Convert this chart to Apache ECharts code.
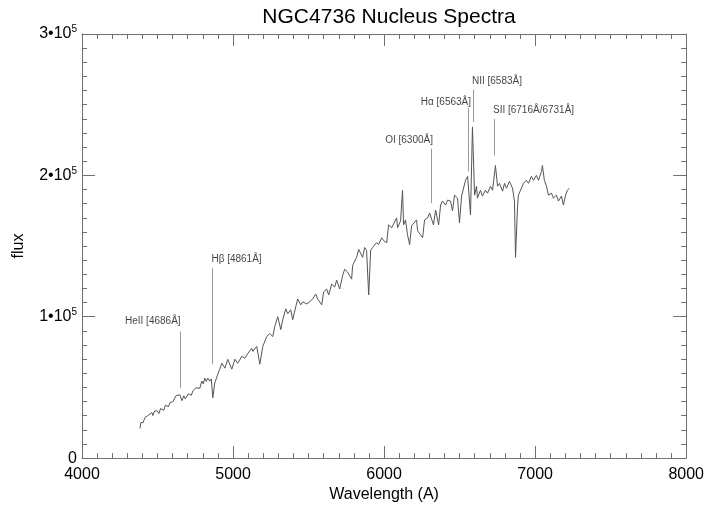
<!DOCTYPE html>
<html>
<head>
<meta charset="utf-8">
<script src="https://cdn.jsdelivr.net/npm/echarts@6/dist/echarts.min.js"></script>
<style>html,body{margin:0;padding:0;background:#fff;}#c{width:707px;height:508px;}</style>
</head>
<body>
<div id="c"></div>
<script>
const wavelength = [4384,4390,4397,4404,4417,4424,4436,4443,4463,4469,4480,4496,4509,4520,4529,4542,4552,4562,4572,4582,4592,4602,4612,4622,4635,4648,4661,4674,4684,4694,4704,4714,4724,4734,4744,4754,4767,4780,4793,4803,4813,4823,4833,4846,4856,4866,4879,4899,4912,4926,4946,4965,4992,5012,5031,5058,5078,5098,5124,5131,5157,5177,5197,5223,5243,5263,5276,5296,5316,5329,5349,5362,5382,5395,5415,5428,5448,5461,5488,5508,5527,5547,5560,5587,5600,5620,5633,5653,5673,5686,5706,5726,5739,5759,5785,5792,5818,5832,5858,5871,5884,5898,5911,5924,5950,5964,5984,5997,6017,6030,6050,6063,6083,6089,6109,6122,6129,6142,6155,6169,6182,6195,6215,6222,6241,6255,6268,6288,6301,6314,6327,6341,6361,6374,6387,6407,6420,6440,6453,6466,6486,6499,6513,6526,6539,6553,6572,6585,6599,6612,6618,6638,6651,6671,6685,6704,6718,6737,6751,6764,6784,6797,6810,6830,6850,6863,6870,6883,6889,6909,6923,6942,6956,6975,6989,7008,7022,7042,7048,7061,7075,7088,7108,7121,7141,7154,7174,7187,7200,7213,7227];
const flux = [21000,25200,26600,25000,28700,27300,30100,29000,32200,30100,33200,33600,31500,35000,35700,33900,37400,38500,36400,39200,38100,39900,40900,44100,42700,44800,40600,44100,41900,42700,45500,46200,44400,47600,46500,49700,51000,49400,54500,52500,56600,54200,56600,54500,56000,42700,53100,59400,62900,67100,63600,69900,62900,69900,67100,72000,70600,74100,77600,75500,79000,66400,79000,86000,88100,86000,93000,100000,90900,97900,105600,102100,104900,97900,107000,112600,108400,110500,109100,110500,112600,116100,112600,108400,117500,119600,115400,123100,121000,125900,119600,129400,133600,131500,126600,136400,142000,147600,142000,149000,146900,115400,146900,149000,152400,151000,155900,153800,152400,165000,162900,164300,169900,162900,167800,189500,165000,168500,158000,151000,164300,162900,168500,160800,158000,155900,168500,169900,173400,174800,165000,175500,165000,179000,181800,179000,182500,181800,174800,186000,183900,166400,185300,186700,196500,199300,172000,234300,186000,192300,183900,189500,185300,189500,187400,192300,189500,207000,192300,194400,188800,194400,190900,195800,190900,181800,142000,176900,186000,190900,194400,196500,194400,199300,196500,200000,196500,202800,207000,196500,192300,186000,187400,183900,186000,181800,185300,179000,185300,189500,190900];

// emission-line annotations
const lineNames = ['HeII [4686Å]','Hβ [4861Å]','OI [6300Å]','Hα [6563Å]','NII [6583Å]','SII [6716Å/6731Å]'];
const lineWave = [4650,4864,6314,6559,6592,6731];
const lineLow = [49700,66400,180400,202800,237800,214000];
const lineHigh = [89500,134300,218900,247600,260800,239900];
const labelWave = [4656,4860,6327,6579,6585,6724];
const labelFlux = [96500,140600,224500,251700,266400,245500];
const labelAlign = ['right','left','right','right','left','left'];

const xTicks = [4000,5000,6000,7000,8000];
const yTicks = [0,100000,200000,300000];

const chart = echarts.init(document.getElementById('c'));
const axisCol = '#707070';
const font = 'Liberation Sans, Arial, Helvetica, sans-serif';
function xAx(pos, showLabel){
  return {
    type:'value', position:pos, min:xTicks[0], max:xTicks[xTicks.length-1], interval:1000,
    axisLine:{show:true,onZero:false,lineStyle:{color:axisCol,width:1}},
    axisTick:{show:true,inside:true,length:12,lineStyle:{color:axisCol}},
    minorTick:{show:true,splitNumber:10,length:5,lineStyle:{color:axisCol}},
    splitLine:{show:false},
    axisLabel:{show:showLabel,margin:8,fontSize:16,color:'#000',fontFamily:font,
      formatter:function(v){return String(v);}},
    name: showLabel ? 'Wavelength (A)' : '', nameLocation:'middle', nameGap:28,
    nameTextStyle:{fontSize:16,color:'#000',fontFamily:font}
  };
}
function yAx(pos, showLabel){
  return {
    type:'value', position:pos, min:yTicks[0], max:yTicks[yTicks.length-1], interval:100000,
    axisLine:{show:true,onZero:false,lineStyle:{color:axisCol,width:1}},
    axisTick:{show:true,inside:true,length:13,lineStyle:{color:axisCol}},
    minorTick:{show:true,splitNumber:10,length:5,lineStyle:{color:axisCol}},
    splitLine:{show:false},
    axisLabel:{show:showLabel,margin:5,color:'#000',fontFamily:font,
      formatter:function(v){ if(v===0) return '{n|0}'; return '{n|'+(v/100000)+'•10}{s|5}'; },
      rich:{n:{fontSize:16,fontFamily:font,color:'#000'},s:{fontSize:10,fontFamily:font,color:'#000',verticalAlign:'top',padding:[0,0,9,0]}}
    },
    name: showLabel ? 'flux' : '', nameLocation:'middle', nameGap:55, nameRotate:90,
    nameTextStyle:{fontSize:16,color:'#000',fontFamily:font}
  };
}

const specData = wavelength.map((w,i)=>[w,flux[i]]);
const markData = lineWave.map((w,i)=>[{coord:[w,lineLow[i]]},{coord:[w,lineHigh[i]]}]);
const labelData = lineNames.map((n,i)=>({name:n,value:[labelWave[i],labelFlux[i]],label:{align:labelAlign[i]}}));

chart.setOption({
  animation:false,
  backgroundColor:'#fff',
  title:{text:'NGC4736 Nucleus Spectra',left:384,top:2,textAlign:'center',
    textStyle:{fontSize:21,fontWeight:'normal',color:'#000',fontFamily:font}},
  grid:{left:82,right:20,top:34,bottom:45},
  xAxis:[xAx('bottom',true),xAx('top',false)],
  yAxis:[yAx('left',true),yAx('right',false)],
  series:[
    {type:'line',data:specData,showSymbol:false,symbol:'none',
      lineStyle:{color:'#555',width:1},
      markLine:{silent:true,symbol:'none',label:{show:false},
        lineStyle:{color:'#999',type:'solid',width:1},data:markData}},
    {type:'scatter',data:labelData,symbolSize:1,itemStyle:{color:'rgba(0,0,0,0)'},
      label:{show:true,position:[0,0],verticalAlign:'middle',formatter:'{b}',
        fontSize:10,color:'#111',fontFamily:'Liberation Sans, Arial, sans-serif'}}
  ]
});
</script>
</body>
</html>
